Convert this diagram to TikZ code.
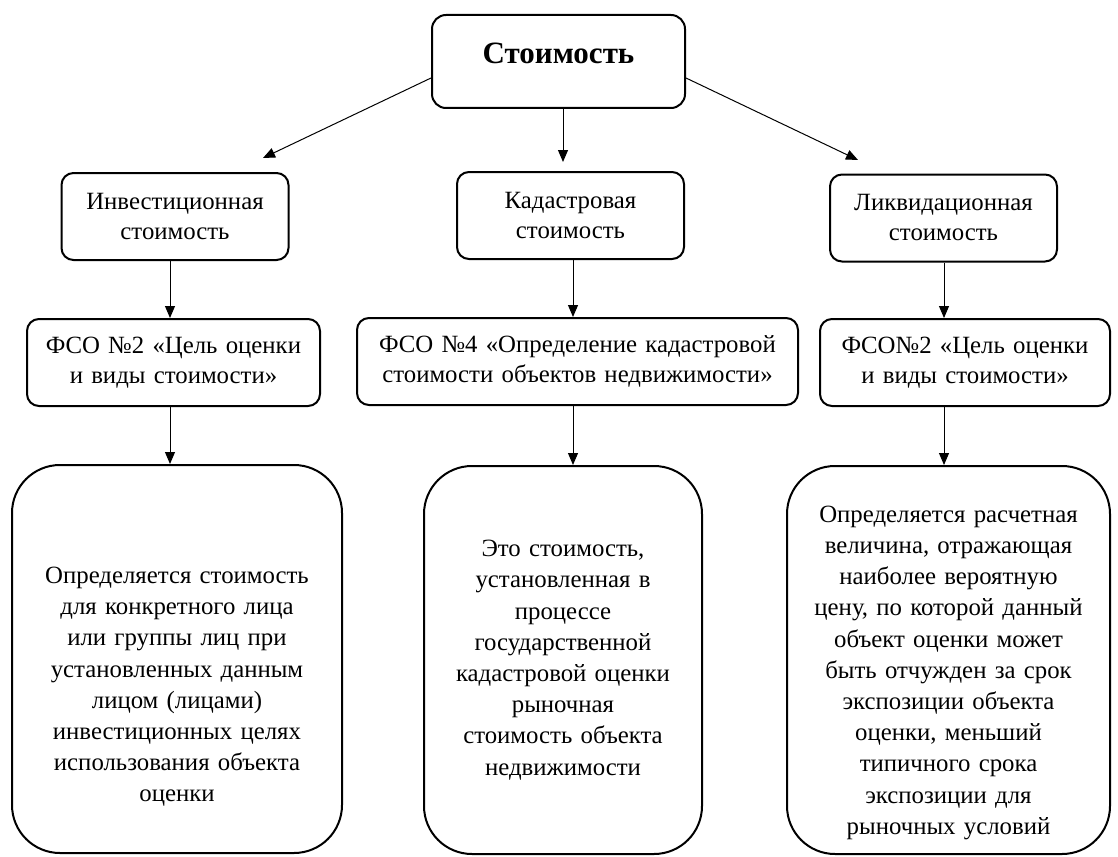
\documentclass[tikz,border=0pt]{standalone}
\usepackage{fontspec}
\setmainfont{Liberation Serif}
\usetikzlibrary{arrows.meta}

\begin{document}
\begin{tikzpicture}[x=0.5pt, y=0.5pt, >={Triangle[length=6pt, width=5pt]},
      box/.style={draw, line width=1pt, rounded corners=6pt, align=center, inner sep=0pt,
        font=\rmfamily\fontsize{12.4}{15}\selectfont},
      head/.style={box, rounded corners=7pt, minimum width=126.5pt, minimum height=46.5pt,
        font=\rmfamily\fontsize{15.5}{18}\selectfont\bfseries},
      kind/.style={box, text width=113.5pt, minimum height=43.5pt},
      fso/.style={box, text width=#1, minimum height=43.5pt},
      desc/.style={box, rounded corners=24pt, text width=#1, minimum height=194pt,
        font=\rmfamily\fontsize{12.4}{15.6}\selectfont},
      link/.style={->, line width=0.5pt}]
    \useasboundingbox (0,0) rectangle (1118,-856);
    % top
    \node[head] (cost) at (558.5,-61.5) {Стоимость\rule[-8pt]{0pt}{0pt}};
    % kinds of value
    \node[kind] (inv) at (175,-216.5) {Инвестиционная\\стоимость};
    \node[kind] (cad) at (570.5,-215.5) {Кадастровая\\стоимость};
    \node[kind] (liq) at (943.5,-218) {Ликвидационная\\стоимость};
    % standards
    \node[fso=146.5pt] (fsoL) at (173.5,-362.5) {ФСО №2 «Цель оценки\\и виды стоимости»};
    \node[fso=220.5pt] (fsoC) at (577.5,-361.5) {ФСО №4 «Определение кадастровой\\стоимости объектов недвижимости»};
    \node[fso=145pt] (fsoR) at (965,-362.5) {ФСО№2 «Цель оценки\\и виды стоимости»};
    % definitions
    \node[desc=165pt] (defL) at (177,-659) {\rule{0pt}{36pt}Определяется стоимость\\для конкретного лица\\или группы лиц при\\установленных данным\\лицом (лицами)\\инвестиционных целях\\использования объекта\\оценки};
    \node[desc=139pt] (defC) at (563,-660) {Это стоимость,\\установленная в\\процессе\\государственной\\кадастровой оценки\\рыночная\\стоимость объекта\\недвижимости};
    \node[desc=161.5pt] (defR) at (948.5,-660) {\rule{0pt}{21pt}Определяется расчетная\\величина, отражающая\\наиболее вероятную\\цену, по которой данный\\объект оценки может\\быть отчужден за срок\\экспозиции объекта\\оценки, меньший\\типичного срока\\экспозиции для\\рыночных условий};
    % arrow ends and columns
    \coordinate (tipL) at (263,-158);
    \coordinate (tipC) at (563,-162);
    \coordinate (tipR) at (858,-160);
    \coordinate (colL) at (170,0);
    \coordinate (colC) at (573,0);
    \coordinate (colR) at (944,0);
    \draw[link] ([yshift=-8.25pt]cost.west) -- (tipL);
    \draw[link] (cost.south -| tipC) -- (tipC);
    \draw[link] ([yshift=-8.25pt]cost.east) -- (tipR);
    \draw[link] (inv.south -| colL) -- (fsoL.north -| colL);
    \draw[link] (cad.south -| colC) -- (fsoC.north -| colC);
    \draw[link] (liq.south -| colR) -- (fsoR.north -| colR);
    \draw[link] (fsoL.south -| colL) -- (defL.north -| colL);
    \draw[link] (fsoC.south -| colC) -- (defC.north -| colC);
    \draw[link] (fsoR.south -| colR) -- (defR.north -| colR);
  \end{tikzpicture}
\end{document}
